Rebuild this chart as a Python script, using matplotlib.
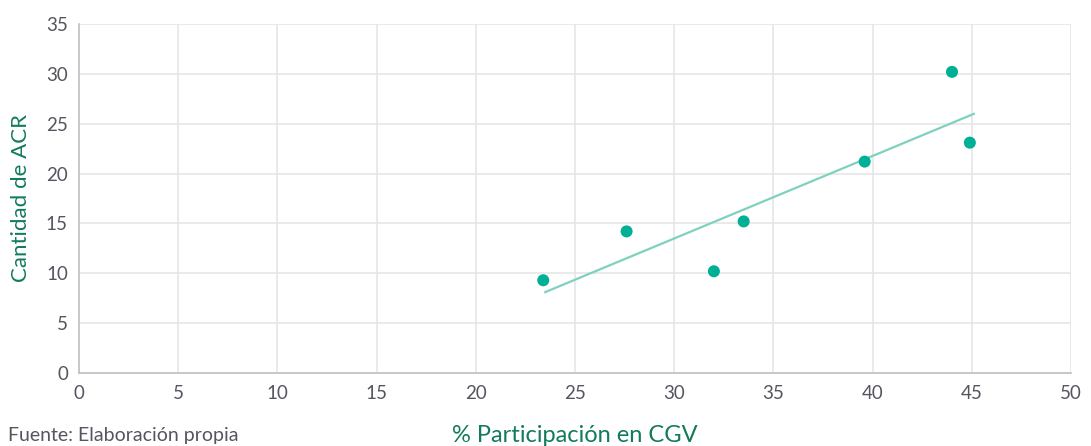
import numpy as np
import matplotlib.pyplot as plt

# participacion en CGV (%) vs cantidad de ACR
participacion = [23.4, 27.6, 32.0, 33.5, 39.6, 44.0, 44.9]
cantidad_acr = [9.3, 14.2, 10.2, 15.2, 21.2, 30.2, 23.1]

x_ticks = [0, 5, 10, 15, 20, 25, 30, 35, 40, 45, 50]
y_ticks = [0, 5, 10, 15, 20, 25, 30, 35]

plt.rcParams['font.family'] = ['Lato', 'DejaVu Sans']

fig = plt.figure(figsize=(10.91, 4.46), dpi=100)
ax = fig.add_axes([0.0724, 0.1637, 0.9093, 0.7825])

# linea de tendencia (minimos cuadrados)
x = np.array(participacion)
y = np.array(cantidad_acr)
m, b = np.polyfit(x, y, 1)
xt = np.array([x.min() + 0.1, x.max() + 0.2])
ax.plot(xt, m * xt + b, color='#7fd1bf', lw=1.6, zorder=2)

ax.scatter(x, y, s=75, color='#00b096', edgecolors='none', zorder=3)

ax.set_xlim(0, 50)
ax.set_ylim(0, 35)
ax.set_xticks(x_ticks)
ax.set_yticks(y_ticks)
ax.grid(True, color='#e6e6e6', lw=1.2)
ax.set_axisbelow(True)
for s in ['top', 'right']:
    ax.spines[s].set_visible(False)
for s in ['left', 'bottom']:
    ax.spines[s].set_color('#c0c0c4')
    ax.spines[s].set_linewidth(1.2)
ax.tick_params(length=0, labelsize=13.5, colors='#555560')
ax.tick_params(axis='x', pad=9)
ax.tick_params(axis='y', pad=8)

ax.set_xlabel('% Participación en CGV', fontsize=17, color='#127a5e', labelpad=16)
ax.set_ylabel('Cantidad de ACR', fontsize=16, color='#127a5e', labelpad=11)

fig.text(0.007, 0.012, 'Fuente: Elaboración propia', fontsize=14, color='#555560')

fig.savefig('out.png', dpi=100)
